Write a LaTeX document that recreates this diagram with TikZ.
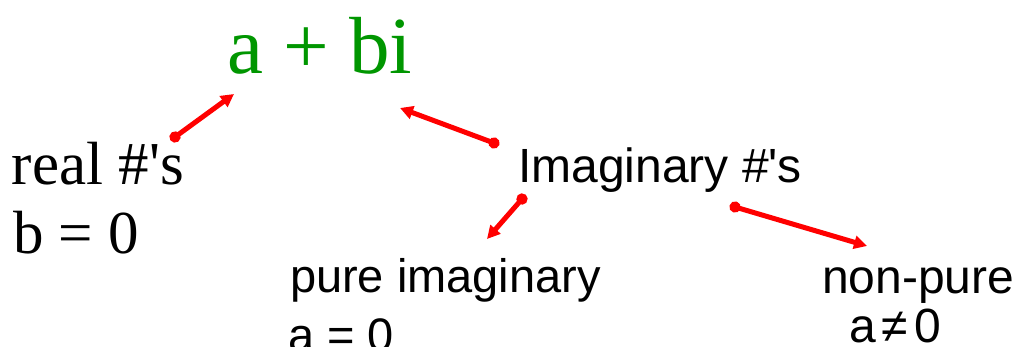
\documentclass[tikz,border=0pt]{standalone}
\usepackage{fontspec}
\newfontfamily\timesfont{Liberation Serif}
\newfontfamily\arialfont{Liberation Sans}
\usetikzlibrary{arrows.meta}
\definecolor{sumgreen}{RGB}{0,150,0}
\definecolor{arrred}{RGB}{255,0,0}
\tikzset{
  lbl/.style={inner sep=0pt, outer sep=0pt, anchor=base west},
  serifbig/.style={lbl, font=\timesfont\fontsize{81}{90}\selectfont, text=sumgreen},
  serifmid/.style={lbl, font=\timesfont\fontsize{61}{69}\selectfont},
  sanslbl/.style={lbl, font=\arialfont\fontsize{48}{56}\selectfont},
  conn/.style={draw=arrred, line width=5pt,
    {Circle[length=11pt,fill=arrred]}-{Triangle[length=13pt,width=13pt,fill=arrred]},
    shorten <=-5.5pt},
}
\begin{document}
\begin{tikzpicture}[x=1pt,y=-1pt]
\useasboundingbox (0,0) rectangle (1022,347);
\node[serifbig] (sum) at (227,74) {a + bi};
\node[serifmid] (real) at (12,185) {real \#'s};
\node[serifmid] (realb) at (13,254) {b = 0};
\node[sanslbl] (imag) at (518,183) {Imaginary \#'s};
\node[sanslbl,font=\arialfont\fontsize{47}{56}\selectfont] (pure) at (290,292) {pure imaginary};
\node[sanslbl,font=\arialfont\fontsize{47}{56}\selectfont] (pureb) at (288,351) {a = 0};
\node[sanslbl] (nonpure) at (822,293) {non-pure};
\node[sanslbl] (nonpureb) at (849,342) {a\kern6pt≠\kern6pt0};
% connector ends
\coordinate (s1) at (175,137); \coordinate (e1) at (234,94);
\coordinate (s2) at (494,143); \coordinate (e2) at (400,108);
\coordinate (s3) at (522,199); \coordinate (e3) at (487,239);
\coordinate (s4) at (735,207); \coordinate (e4) at (867,246);
\draw[conn] (s1) -- (e1);
\draw[conn] (s2) -- (e2);
\draw[conn] (s3) -- (e3);
\draw[conn] (s4) -- (e4);
\end{tikzpicture}
\end{document}
